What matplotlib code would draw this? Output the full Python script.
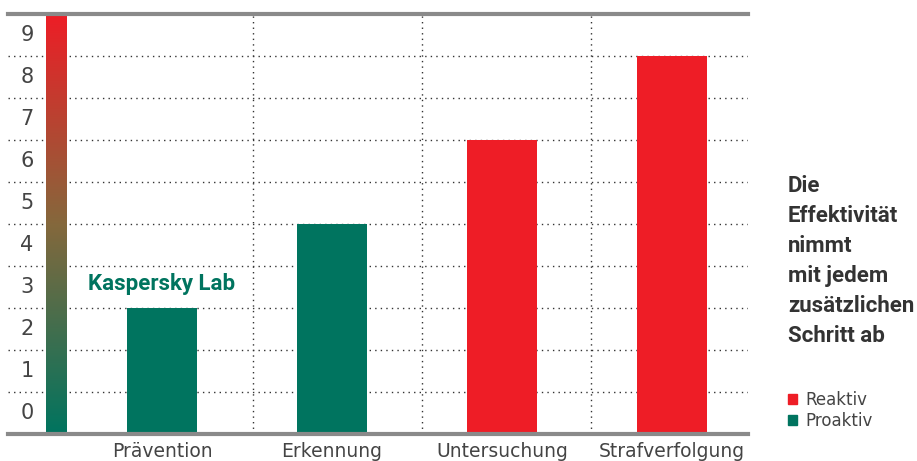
import numpy as np
from matplotlib import pyplot as plt
from matplotlib.patches import Patch
from matplotlib.colors import LinearSegmentedColormap

categories = ["Prävention", "Erkennung", "Untersuchung", "Strafverfolgung"]
values = [3, 5, 7, 9]
kinds = ["Proaktiv", "Proaktiv", "Reaktiv", "Reaktiv"]
y_labels = [str(i) for i in range(10)]
side_text = ["Die", "Effektivität", "nimmt", "mit jedem", "zusätzlichen", "Schritt ab"]

GREEN = "#00745f"
RED = "#ee1d26"
GRAY = "#444444"
colors = {"Proaktiv": GREEN, "Reaktiv": RED}

plt.rcParams['font.family'] = ['DejaVu Sans']

fig = plt.figure(figsize=(9.17, 4.61), dpi=100)
ax = fig.add_axes([8 / 917, 1 - 434 / 461, 740 / 917, 420 / 461])

x = np.arange(len(categories))
ax.set_xlim(-0.906, 3.447)
ax.set_ylim(0, 10)

# dotted grid
for g in range(1, 10):
    ax.axhline(g, color="#333333", linestyle=(0, (1, 3)), linewidth=1, zorder=1)
for v in [0.535, 1.53, 2.525]:
    ax.axvline(v, color="#333333", linestyle=(0, (1, 3)), linewidth=1, zorder=1)

# gradient scale bar
cmap = LinearSegmentedColormap.from_list("eff", [(0, GREEN), (0.5, "#85683c"), (1, RED)])
grad = np.linspace(0, 1, 256).reshape(-1, 1)
ax.imshow(grad, cmap=cmap, origin="lower", aspect="auto",
          extent=[-0.683, -0.56, 0, 10], zorder=3)

ax.bar(x, values, width=0.41, color=[colors[k] for k in kinds], zorder=3)

for i, lab in enumerate(y_labels):
    ax.text(-0.795, i + 0.5, lab, ha="center", va="center", fontsize=15,
            color=GRAY)

ax.text(0, 3.57, "Kaspersky Lab", ha="center", va="center", fontsize=16,
        fontweight="bold", color=GREEN, family=["Roboto", "DejaVu Sans"])

ax.set_xticks(x)
ax.set_xticklabels(categories, fontsize=13.5, color=GRAY)
ax.tick_params(axis="x", length=0, pad=6)
ax.set_yticks([])

for s in ["left", "right"]:
    ax.spines[s].set_visible(False)
for s in ["top", "bottom"]:
    ax.spines[s].set_color("#8a8a8a")
    ax.spines[s].set_linewidth(3)
    ax.spines[s].set_zorder(5)

for j, line in enumerate(side_text):
    fig.text(788 / 917, 1 - (186 + j * 30) / 461, line, ha="left", va="center",
             fontsize=16, fontweight="bold", color="#333333",
             family=["Roboto", "DejaVu Sans"])

handles = [Patch(color=RED, label="Reaktiv"), Patch(color=GREEN, label="Proaktiv")]
fig.legend(handles=handles, loc="upper left", bbox_to_anchor=(773 / 917, 1 - 376 / 461),
           frameon=False, fontsize=12, handlelength=0.55, handleheight=0.55,
           handletextpad=0.5, labelspacing=0.15, labelcolor=GRAY)

fig.savefig("out.png", dpi=100)
